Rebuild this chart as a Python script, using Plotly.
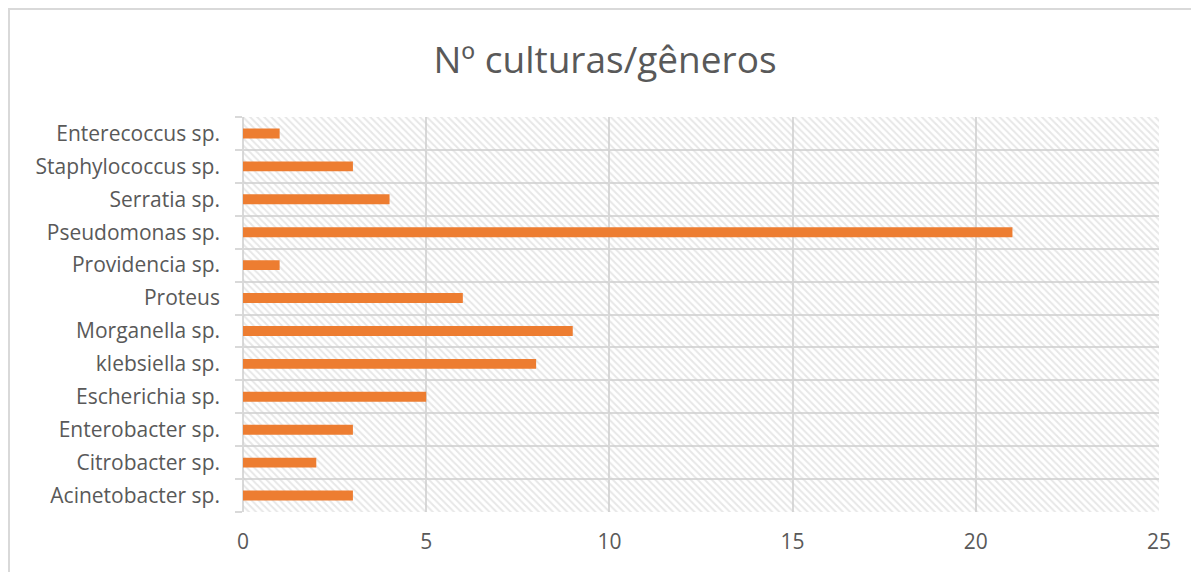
import plotly.graph_objects as go

categories = ["Acinetobacter sp.", "Citrobacter sp.", "Enterobacter sp.", "Escherichia sp.",
              "klebsiella sp.", "Morganella sp.", "Proteus", "Providencia sp.",
              "Pseudomonas sp.", "Serratia sp.", "Staphylococcus sp.", "Enterecoccus sp."]
values = [3, 2, 3, 5, 8, 9, 6, 1, 21, 4, 3, 1]
x_ticks = [0, 5, 10, 15, 20, 25]
x_max = 25
title = "Nº culturas/gêneros"

# page is offset by the default 8px body margin
OFF = 8
W, H = 1199, 572
L, T = 243 - OFF, 117 - OFF
R = W - (1159 - OFF)
B = H - (512 - OFF)
pw, ph = W - L - R, H - T - B

grid = "#d9d9d9"
txt = "#595959"
font = "'Open Sans', sans-serif"

fig = go.Figure()
# hatched plot background
fig.add_trace(go.Bar(
    x=[x_max] * len(categories), y=categories, orientation="h", width=1,
    marker=dict(color="rgba(0,0,0,0)", line=dict(width=0),
                pattern=dict(shape="\\", fgcolor="#cfcfcf", bgcolor="rgba(0,0,0,0)",
                             size=5, solidity=0.4)),
    hoverinfo="skip", showlegend=False))
fig.add_trace(go.Bar(
    x=values, y=categories, orientation="h", width=0.3,
    marker=dict(color="#ED7D31", line=dict(width=0)), showlegend=False))

def px_x(page_x):
    return (page_x - OFF - L) / pw

def px_y(page_y):
    return (T + ph - (page_y - OFF)) / ph

fig.update_layout(
    width=W, height=H, margin=dict(l=L, r=R, t=T, b=B, pad=0),
    barmode="overlay", paper_bgcolor="white", plot_bgcolor="white",
    title=dict(text=title, x=(605 - OFF) / W, xanchor="center",
               y=1 - (60 - OFF) / H, yanchor="middle",
               font=dict(family=font, size=37, color=txt)),
    font=dict(family=font, size=21, color=txt),
    xaxis=dict(range=[0, x_max], tickvals=x_ticks, showgrid=True, gridcolor=grid, gridwidth=2,
               zeroline=True, zerolinecolor=grid, zerolinewidth=2, ticks="", showline=False,
               tickfont=dict(size=21, color=txt), ticklabelstandoff=15, fixedrange=True),
    yaxis=dict(type="category", categoryorder="array", categoryarray=categories,
               tickson="boundaries", showgrid=True, gridcolor=grid, gridwidth=2,
               ticks="outside", ticklen=7, tickwidth=2, tickcolor=grid,
               showline=False, zeroline=False, range=[-0.5, len(categories) - 0.5],
               tickfont=dict(size=21, color=txt), ticklabelstandoff=22, fixedrange=True),
    shapes=[dict(type="rect", xref="paper", yref="paper",
                 x0=px_x(9), x1=px_x(1260), y0=px_y(620), y1=px_y(9),
                 line=dict(color=grid, width=2), fillcolor="rgba(0,0,0,0)", layer="below")],
)

fig.write_html("out.html")
